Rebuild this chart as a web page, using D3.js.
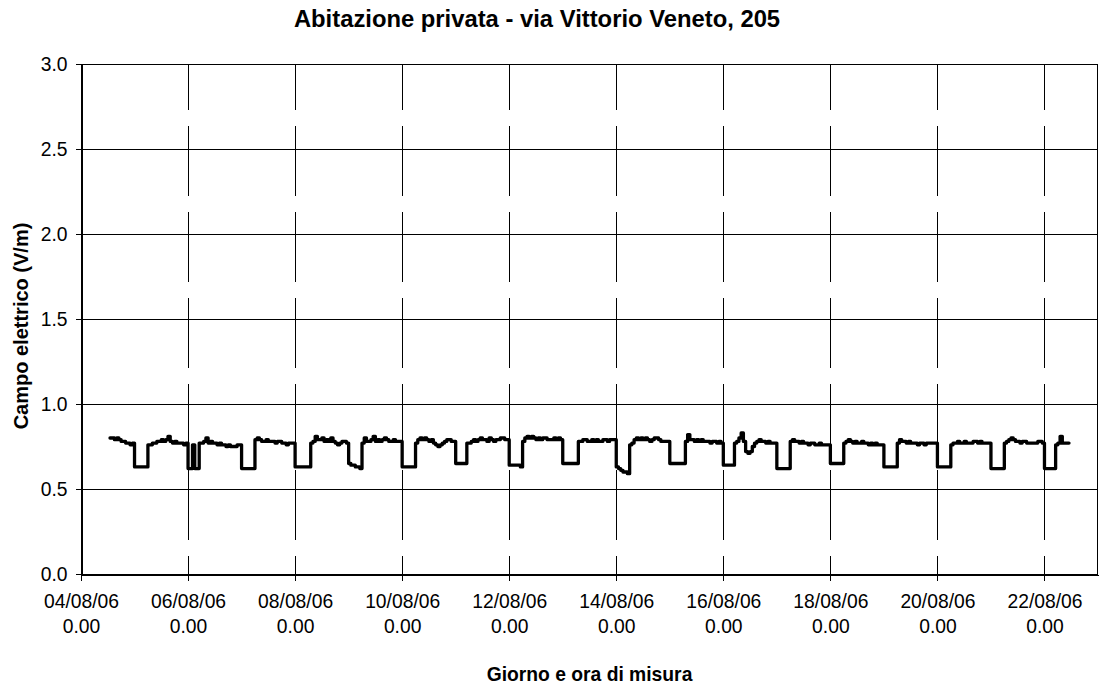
<!DOCTYPE html>
<html>
<head>
<meta charset="utf-8">
<script src="https://cdn.jsdelivr.net/npm/d3@7"></script>
<style>
  html, body { margin: 0; padding: 0; background: #fff; }
  svg { display: block; font-family: "Liberation Sans", Arial, sans-serif; }
</style>
</head>
<body>
<svg id="chart" width="1101" height="685"></svg>
<script>
// Hourly electric-field readings (V/m), one array per day.
// The campaign starts on 04/08/06 at 13.00 and ends on 22/08/06 at 11.00.
const firstReading = new Date(2006, 7, 4, 13);

const d04 = [0.80, 0.80, 0.79, 0.80, 0.79, 0.78, 0.78, 0.77, 0.77, 0.76, 0.77];
const d05 = [0.63, 0.63, 0.63, 0.63, 0.63, 0.63, 0.76, 0.76, 0.77, 0.77, 0.78, 0.78, 0.79, 0.78, 0.79, 0.81, 0.78, 0.77, 0.78, 0.77, 0.77, 0.77, 0.76, 0.77];
const d06 = [0.62, 0.62, 0.76, 0.62, 0.62, 0.77, 0.77, 0.78, 0.80, 0.77, 0.78, 0.77, 0.77, 0.76, 0.77, 0.76, 0.76, 0.75, 0.76, 0.75, 0.75, 0.75, 0.76, 0.76];
const d07 = [0.62, 0.62, 0.62, 0.62, 0.62, 0.62, 0.79, 0.80, 0.79, 0.78, 0.78, 0.79, 0.78, 0.78, 0.78, 0.77, 0.78, 0.78, 0.77, 0.77, 0.76, 0.77, 0.77, 0.77];
const d08 = [0.63, 0.63, 0.63, 0.63, 0.63, 0.63, 0.63, 0.77, 0.78, 0.81, 0.79, 0.79, 0.80, 0.78, 0.79, 0.78, 0.80, 0.78, 0.77, 0.76, 0.77, 0.78, 0.78, 0.77];
const d09 = [0.65, 0.64, 0.64, 0.63, 0.63, 0.62, 0.77, 0.80, 0.78, 0.78, 0.79, 0.81, 0.78, 0.79, 0.78, 0.79, 0.80, 0.79, 0.78, 0.78, 0.79, 0.78, 0.78, 0.78];
const d10 = [0.63, 0.63, 0.63, 0.63, 0.63, 0.63, 0.77, 0.79, 0.80, 0.79, 0.80, 0.79, 0.78, 0.79, 0.77, 0.76, 0.75, 0.76, 0.77, 0.78, 0.79, 0.79, 0.78, 0.78];
const d11 = [0.65, 0.65, 0.65, 0.65, 0.65, 0.77, 0.77, 0.78, 0.79, 0.78, 0.79, 0.80, 0.79, 0.79, 0.78, 0.80, 0.79, 0.78, 0.79, 0.79, 0.80, 0.80, 0.79, 0.79];
const d12 = [0.64, 0.64, 0.64, 0.64, 0.64, 0.63, 0.78, 0.80, 0.81, 0.80, 0.81, 0.80, 0.79, 0.80, 0.79, 0.80, 0.80, 0.79, 0.79, 0.79, 0.80, 0.79, 0.80, 0.79];
const d13 = [0.65, 0.65, 0.65, 0.65, 0.65, 0.65, 0.65, 0.78, 0.78, 0.79, 0.79, 0.78, 0.78, 0.79, 0.78, 0.79, 0.78, 0.78, 0.79, 0.79, 0.78, 0.79, 0.79, 0.79];
const d14 = [0.63, 0.62, 0.61, 0.60, 0.60, 0.59, 0.76, 0.77, 0.79, 0.80, 0.79, 0.80, 0.79, 0.80, 0.79, 0.78, 0.79, 0.80, 0.80, 0.79, 0.78, 0.78, 0.78, 0.78];
const d15 = [0.65, 0.65, 0.65, 0.65, 0.65, 0.65, 0.65, 0.78, 0.82, 0.79, 0.79, 0.78, 0.79, 0.78, 0.79, 0.78, 0.78, 0.78, 0.77, 0.78, 0.78, 0.77, 0.78, 0.77];
const d16 = [0.64, 0.64, 0.64, 0.64, 0.64, 0.77, 0.78, 0.80, 0.83, 0.78, 0.72, 0.71, 0.72, 0.75, 0.77, 0.78, 0.79, 0.78, 0.78, 0.77, 0.78, 0.77, 0.77, 0.77];
const d17 = [0.62, 0.62, 0.62, 0.62, 0.62, 0.62, 0.78, 0.79, 0.78, 0.78, 0.77, 0.78, 0.77, 0.77, 0.76, 0.77, 0.77, 0.76, 0.76, 0.77, 0.76, 0.76, 0.76, 0.76];
const d18 = [0.65, 0.65, 0.65, 0.65, 0.65, 0.65, 0.77, 0.78, 0.79, 0.78, 0.77, 0.78, 0.77, 0.77, 0.78, 0.77, 0.77, 0.76, 0.77, 0.76, 0.77, 0.76, 0.76, 0.76];
const d19 = [0.63, 0.63, 0.63, 0.63, 0.63, 0.63, 0.77, 0.79, 0.78, 0.78, 0.77, 0.78, 0.77, 0.77, 0.77, 0.76, 0.77, 0.77, 0.76, 0.77, 0.77, 0.77, 0.77, 0.77];
const d20 = [0.63, 0.63, 0.63, 0.63, 0.63, 0.63, 0.76, 0.77, 0.77, 0.78, 0.77, 0.77, 0.78, 0.77, 0.77, 0.77, 0.78, 0.78, 0.77, 0.78, 0.77, 0.77, 0.77, 0.77];
const d21 = [0.62, 0.62, 0.62, 0.62, 0.62, 0.62, 0.77, 0.78, 0.79, 0.80, 0.79, 0.78, 0.78, 0.77, 0.78, 0.78, 0.77, 0.77, 0.77, 0.77, 0.77, 0.78, 0.78, 0.77];
const d22 = [0.62, 0.62, 0.62, 0.62, 0.62, 0.76, 0.77, 0.81, 0.77, 0.77, 0.77, 0.77];

const dailyReadings = [d04, d05, d06, d07, d08, d09, d10, d11, d12, d13, d14, d15, d16, d17, d18, d19, d20, d21, d22];

// Axis ticks
const xTickDays = [4, 6, 8, 10, 12, 14, 16, 18, 20, 22];   // August 2006, at 0.00
const yTicks = [0, 0.5, 1.0, 1.5, 2.0, 2.5, 3.0];

const titleText = "Abitazione privata - via Vittorio Veneto, 205";
const xTitleText = "Giorno e ora di misura";
const yTitleText = "Campo elettrico (V/m)";

// ---- layout ----
const plot = { left: 81, right: 1098, top: 64, bottom: 574 };
const fontSize = 19.3;

const svg = d3.select("#chart");

const x = d3.scaleTime()
  .domain([new Date(2006, 7, 4), new Date(2006, 7, 23)])
  .range([plot.left, plot.right]);

const y = d3.scaleLinear()
  .domain([0, 3])
  .range([plot.bottom, plot.top]);

// flatten the daily arrays into timestamped readings
const series = dailyReadings.flat().map((v, i) => ({
  t: d3.timeHour.offset(firstReading, i),
  v
}));

const grid = svg.append("g").attr("shape-rendering", "crispEdges");

// horizontal gridlines (solid)
grid.selectAll("line.h")
  .data(yTicks.filter(d => d > 0))
  .join("line")
  .attr("class", "h")
  .attr("x1", plot.left).attr("x2", plot.right)
  .attr("y1", d => Math.round(y(d)) + 0.5).attr("y2", d => Math.round(y(d)) + 0.5)
  .attr("stroke", "#000").attr("stroke-width", 1);

// vertical gridlines (long dashes)
const xTickDates = xTickDays.map(d => new Date(2006, 7, d));
grid.selectAll("line.v")
  .data(xTickDates.slice(1))
  .join("line")
  .attr("class", "v")
  .attr("x1", d => Math.round(x(d)) + 0.5).attr("x2", d => Math.round(x(d)) + 0.5)
  .attr("y1", plot.top).attr("y2", plot.bottom)
  .attr("stroke", "#000").attr("stroke-width", 1)
  .attr("stroke-dasharray", "70,16")
  .attr("stroke-dashoffset", 24);

// plot frame
grid.append("rect")
  .attr("x", plot.left + 0.5).attr("y", plot.top + 0.5)
  .attr("width", plot.right - plot.left - 1).attr("height", plot.bottom - plot.top)
  .attr("fill", "none").attr("stroke", "#000").attr("stroke-width", 1);

// y axis
const yAxis = d3.axisLeft(y)
  .tickValues(yTicks)
  .tickFormat(d3.format(".1f"))
  .tickSize(6)
  .tickPadding(8);
const gy = svg.append("g")
  .attr("transform", `translate(${plot.left + 0.5},0)`)
  .call(yAxis);
gy.select(".domain").attr("stroke", "#000").attr("shape-rendering", "crispEdges");
gy.selectAll(".tick line").attr("stroke", "#000").attr("shape-rendering", "crispEdges");
gy.selectAll(".tick text")
  .attr("fill", "#000")
  .style("font-size", fontSize + "px")
  .style("font-family", '"Liberation Sans", Arial, sans-serif');

// x axis: date on the first line, hour on the second
const fmtDay = d3.timeFormat("%d/%m/%y");
const xAxis = d3.axisBottom(x)
  .tickValues(xTickDates)
  .tickFormat("")
  .tickSize(6)
  .tickSizeOuter(0);
const gx = svg.append("g")
  .attr("transform", `translate(0,${plot.bottom + 0.5})`)
  .call(xAxis);
gx.select(".domain").attr("stroke", "#000").attr("shape-rendering", "crispEdges");
gx.selectAll(".tick line").attr("stroke", "#000").attr("shape-rendering", "crispEdges");
gx.selectAll(".tick text").remove();
gx.selectAll(".tick").each(function (d) {
  const t = d3.select(this).append("text")
    .attr("fill", "#000")
    .attr("text-anchor", "middle")
    .style("font-size", fontSize + "px")
    .style("font-family", '"Liberation Sans", Arial, sans-serif');
  t.append("tspan").attr("x", 0).attr("y", 33).text(fmtDay(d));
  t.append("tspan").attr("x", 0).attr("y", 58).text(d3.timeFormat("%-H")(d) + ".00");
});

// measured series
const line = d3.line()
  .x(d => x(d.t))
  .y(d => y(d.v))
  .curve(d3.curveStepAfter);

svg.append("path")
  .datum(series)
  .attr("d", line)
  .attr("fill", "none")
  .attr("stroke", "#000")
  .attr("stroke-width", 3.3)
  .attr("stroke-linejoin", "round")
  .attr("stroke-linecap", "round");

// titles
svg.append("text")
  .attr("x", 537).attr("y", 27)
  .attr("text-anchor", "middle")
  .style("font-size", "23.8px").style("font-weight", "bold")
  .text(titleText);

svg.append("text")
  .attr("x", (plot.left + plot.right) / 2).attr("y", 681)
  .attr("text-anchor", "middle")
  .style("font-size", fontSize + "px").style("font-weight", "bold")
  .text(xTitleText);

svg.append("text")
  .attr("transform", `translate(28,326) rotate(-90)`)
  .attr("text-anchor", "middle")
  .style("font-size", "20px").style("font-weight", "bold")
  .text(yTitleText);
</script>
</body>
</html>
